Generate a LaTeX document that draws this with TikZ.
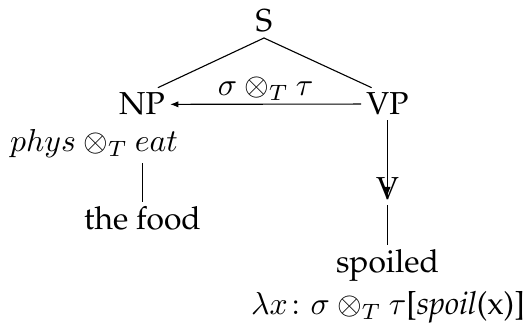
\documentclass[tikz,border=0pt]{standalone}
\usepackage[T1]{fontenc}
\usepackage{amsmath, amsfonts}
\renewcommand{\rmdefault}{ppl}
\usetikzlibrary{arrows.meta}

\begin{document}
\begin{tikzpicture}[x=0.315pt,y=-0.315pt, line width=0.35pt]
\tikzstyle{every node}+=[inner sep=1.5pt, anchor=base]
\tikzstyle{arr}=[-{Latex[length=2.6pt,width=2pt]}]
\useasboundingbox (0,0) rectangle (523,330);
% tree nodes
\draw (264,32) node (S) {S};
\draw (142,115) node (NP) {NP};
\draw (387.5,115) node (VP) {VP};
\draw (387.5,200) node (V) {V};
\draw (142.5,230) node (food) {the food};
\draw (387.5,273) node (spoiled) {spoiled};
% type annotations
\draw (94,152) node (phys) {$phys \otimes_T eat$};
\draw (388,315) node (lam) {$\lambda x\colon \sigma \otimes_T \tau$[\textit{spoil}(x)]};
% edges
\draw [black] (S.south) -- ([xshift=5pt]NP.north);
\draw [black] (S.south) -- ([xshift=-5pt]VP.north);
\draw [black, arr] (VP.west) -- (NP.east) node [midway, above, inner sep=1pt] (coerce) {$\sigma \otimes_T \tau$};
\draw [black, arr] (VP.south) -- ([yshift=1.5pt]V.base);
\draw [black] (V) -- (spoiled);
\draw [black] (phys.south -| food.north) -- (food.north);
\end{tikzpicture}
\end{document}
